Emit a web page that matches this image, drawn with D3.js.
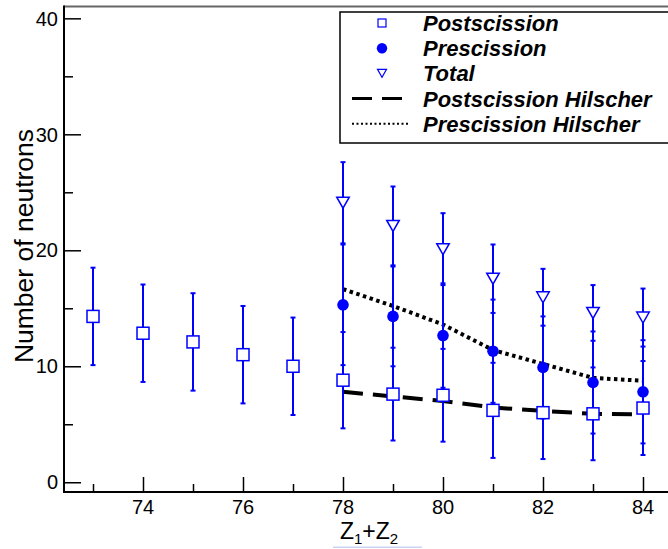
<!DOCTYPE html>
<html>
<head>
<meta charset="utf-8">
<script src="https://cdn.jsdelivr.net/npm/d3@7"></script>
<style>
  html, body { margin: 0; padding: 0; background: #fff; }
  svg { display: block; font-family: "Liberation Sans", Arial, sans-serif; }
</style>
</head>
<body>
<svg id="chart" width="668" height="549"></svg>
<script>
// Neutron multiplicities versus Z1+Z2
const zAll = [73, 74, 75, 76, 77, 78, 79, 80, 81, 82, 83, 84];
const postValues = [14.3, 12.85, 12.1, 11.0, 10.0, 8.8, 7.6, 7.5, 6.2, 6.0, 5.9, 6.4];
const postErrors = [4.2, 4.2, 4.2, 4.2, 4.2, 4.15, 4.0, 4.0, 4.1, 4.0, 4.0, 4.05];

const zHeavy = [78, 79, 80, 81, 82, 83, 84];
const preValues = [15.3, 14.3, 12.65, 11.3, 9.9, 8.6, 7.8];
const preErrors = [5.2, 4.3, 4.5, 4.45, 4.4, 4.4, 4.45];
const totalValues = [24.1, 22.1, 20.1, 17.55, 15.95, 14.6, 14.2];
const totalErrors = [3.5, 3.4, 3.1, 2.95, 2.45, 2.4, 2.5];

const postHilscher = [7.8, 7.4, 7.0, 6.45, 6.15, 5.9, 5.85];
const preHilscher = [16.65, 15.2, 13.6, 11.4, 10.2, 9.0, 8.75];

const xMajorTicks = [74, 76, 78, 80, 82, 84];
const xMinorTicks = [73, 75, 77, 79, 81, 83];
const yMajorTicks = [0, 10, 20, 30, 40];
const yMinorTicks = [5, 15, 25, 35];

const legendLabels = ["Postscission", "Prescission", "Total", "Postscission Hilscher", "Prescission Hilscher"];

const blue = "#0000ff";
const svg = d3.select("#chart");

const plotLeft = 64, plotRight = 673, plotTop = 6.5, plotBottom = 492;
const x = d3.scaleLinear().domain([72.42, 84.6]).range([plotLeft, plotRight]);
const y = d3.scaleLinear().domain([-0.84, 41.02]).range([plotBottom, plotTop]);

// frame
svg.append("line").attr("x1", plotLeft).attr("x2", 668).attr("y1", plotTop).attr("y2", plotTop)
  .attr("stroke", "#666").attr("stroke-width", 2);

// axes
const yAxis = svg.append("g").attr("transform", `translate(${plotLeft},0)`)
  .call(d3.axisRight(y).tickValues(yMajorTicks).tickSize(17).tickFormat(""));
yAxis.select(".domain").remove();
svg.append("g").attr("transform", `translate(${plotLeft},0)`)
  .call(d3.axisRight(y).tickValues(yMinorTicks).tickSize(9).tickFormat(""))
  .select(".domain").remove();

const xAxis = svg.append("g").attr("transform", `translate(0,${plotBottom})`)
  .call(d3.axisTop(x).tickValues(xMajorTicks).tickSize(15).tickFormat(""));
xAxis.select(".domain").remove();
const xMinor = svg.append("g").attr("transform", `translate(0,${plotBottom})`)
  .call(d3.axisTop(x).tickValues(xMinorTicks).tickSize(8).tickFormat(""));
xMinor.select(".domain").remove();
svg.selectAll(".tick line").attr("stroke", "#000").attr("stroke-width", 1.5);

svg.append("line").attr("x1", plotLeft).attr("x2", plotLeft).attr("y1", plotTop - 1).attr("y2", plotBottom + 1)
  .attr("stroke", "#000").attr("stroke-width", 2);
svg.append("line").attr("x1", plotLeft).attr("x2", 668).attr("y1", plotBottom).attr("y2", plotBottom)
  .attr("stroke", "#000").attr("stroke-width", 2);

// tick labels
svg.append("g").selectAll("text").data(yMajorTicks).join("text")
  .attr("x", 58).attr("y", d => y(d)).attr("dy", "0.36em")
  .attr("text-anchor", "end").attr("font-size", 20).text(d => d);
svg.append("g").selectAll("text").data(xMajorTicks).join("text")
  .attr("x", d => x(d)).attr("y", 513.5)
  .attr("text-anchor", "middle").attr("font-size", 20).text(d => d);

// axis titles
const xt = svg.append("text").attr("x", 369).attr("y", 538.5).attr("text-anchor", "middle").attr("font-size", 23);
xt.append("tspan").text("Z");
xt.append("tspan").attr("font-size", 15).attr("dy", 5).text("1");
xt.append("tspan").attr("dy", -5).text("+Z");
xt.append("tspan").attr("font-size", 15).attr("dy", 5).text("2");
svg.append("rect").attr("x", 333).attr("y", 546.5).attr("width", 89).attr("height", 1.5).attr("fill", "#c9d5f2");

svg.append("text").attr("transform", "translate(33,246) rotate(-90)")
  .attr("text-anchor", "middle").attr("font-size", 26.5).text("Number of neutrons");

// model curves
const line = vals => d3.line().x((d, i) => x(zHeavy[i])).y(d => y(d))(vals);
svg.append("path").attr("d", line(postHilscher)).attr("fill", "none")
  .attr("stroke", "#000").attr("stroke-width", 4).attr("stroke-dasharray", "20,10");
svg.append("path").attr("d", line(preHilscher)).attr("fill", "none")
  .attr("stroke", "#000").attr("stroke-width", 4).attr("stroke-dasharray", "3.5,3.5");

// error bars
function errorBars(zs, vals, errs) {
  const g = svg.append("g").attr("stroke", blue).attr("stroke-width", 2);
  zs.forEach((z, i) => {
    const cx = x(z), y0 = y(vals[i] - errs[i]), y1 = y(vals[i] + errs[i]);
    g.append("line").attr("x1", cx).attr("x2", cx).attr("y1", y0).attr("y2", y1);
    g.append("line").attr("x1", cx - 2.5).attr("x2", cx + 2.5).attr("y1", y0).attr("y2", y0);
    g.append("line").attr("x1", cx - 2.5).attr("x2", cx + 2.5).attr("y1", y1).attr("y2", y1);
  });
}
errorBars(zAll, postValues, postErrors);
errorBars(zHeavy, preValues, preErrors);
errorBars(zHeavy, totalValues, totalErrors);

// markers
svg.append("g").selectAll("rect").data(postValues).join("rect")
  .attr("x", (d, i) => x(zAll[i]) - 6).attr("y", d => y(d) - 6)
  .attr("width", 12).attr("height", 12)
  .attr("fill", "#fff").attr("stroke", blue).attr("stroke-width", 1.5);
svg.append("g").selectAll("circle").data(preValues).join("circle")
  .attr("cx", (d, i) => x(zHeavy[i])).attr("cy", d => y(d)).attr("r", 5.8)
  .attr("fill", blue);
const tri = (cx, cy, w, h) => `M${cx - w / 2},${cy - h / 2}L${cx + w / 2},${cy - h / 2}L${cx},${cy + h / 2}Z`;
svg.append("g").selectAll("path").data(totalValues).join("path")
  .attr("d", (d, i) => tri(x(zHeavy[i]), y(d), 12.5, 11))
  .attr("fill", "#fff").attr("stroke", blue).attr("stroke-width", 1.5);

// legend
const lg = svg.append("g");
lg.append("rect").attr("x", 340).attr("y", 12).attr("width", 340).attr("height", 131)
  .attr("fill", "#fff").attr("stroke", "#000").attr("stroke-width", 1.5);
const rowY = i => 23 + i * 25.2;
lg.append("rect").attr("x", 378).attr("y", rowY(0) - 4).attr("width", 8).attr("height", 8)
  .attr("fill", "#fff").attr("stroke", blue).attr("stroke-width", 1.2);
lg.append("circle").attr("cx", 382).attr("cy", rowY(1)).attr("r", 5.2).attr("fill", blue);
lg.append("path").attr("d", tri(382, rowY(2), 9, 8)).attr("fill", "#fff").attr("stroke", blue).attr("stroke-width", 1.2);
lg.append("line").attr("x1", 352).attr("x2", 402).attr("y1", rowY(3)).attr("y2", rowY(3))
  .attr("stroke", "#000").attr("stroke-width", 3).attr("stroke-dasharray", "20,10");
lg.append("line").attr("x1", 352).attr("x2", 410).attr("y1", rowY(4)).attr("y2", rowY(4))
  .attr("stroke", "#000").attr("stroke-width", 2).attr("stroke-dasharray", "2,2.5");
lg.selectAll("text").data(legendLabels).join("text")
  .attr("x", 423).attr("y", (d, i) => rowY(i)).attr("dy", "0.36em")
  .attr("font-size", 22).attr("font-weight", "bold").attr("font-style", "italic")
  .text(d => d);
</script>
</body>
</html>
